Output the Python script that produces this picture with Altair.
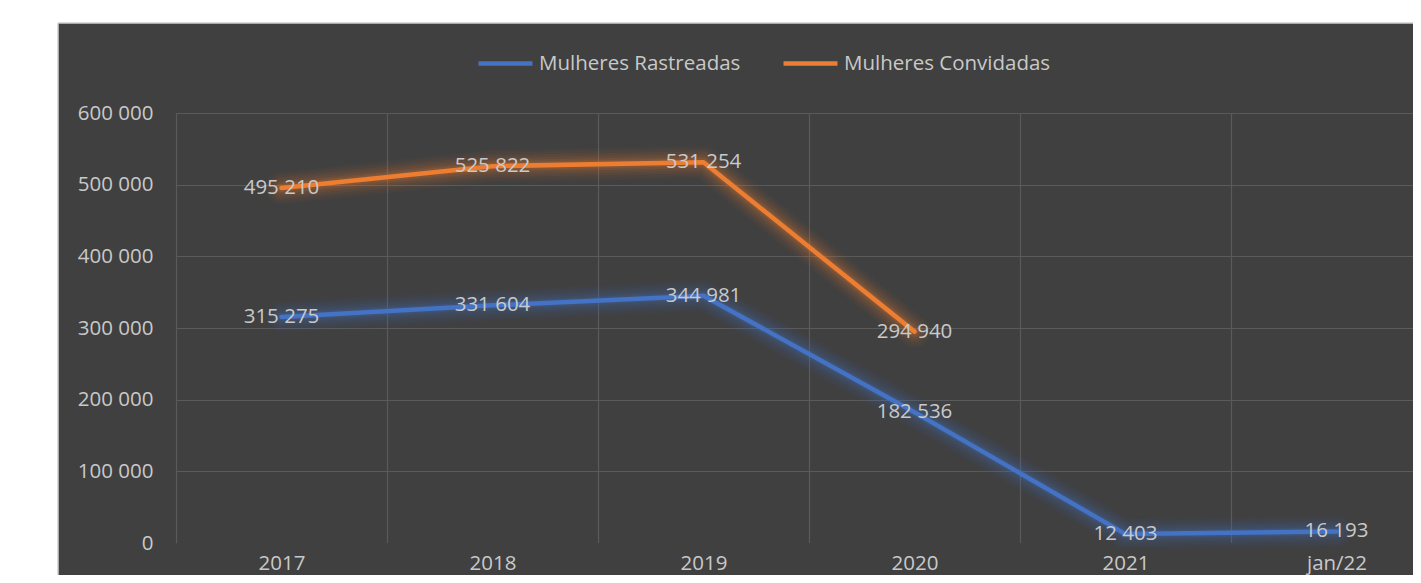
import altair as alt
import pandas as pd

years = ["2017", "2018", "2019", "2020", "2021", "jan/22"]
rastreadas = [315275, 331604, 344981, 182536, 12403, 16193]
convidadas = [495210, 525822, 531254, 294940]
series_names = ["Mulheres Rastreadas", "Mulheres Convidadas"]
series_colors = ["#4472C4", "#ED7D31"]
y_ticks = [0, 100000, 200000, 300000, 400000, 500000, 600000]

rows = []
for yr, v in zip(years, rastreadas):
    rows.append({"ano": yr, "serie": series_names[0], "valor": v})
for yr, v in zip(years, convidadas):
    rows.append({"ano": yr, "serie": series_names[1], "valor": v})
df = pd.DataFrame(rows)

FONT = "Open Sans"
FS = 20.5
TXT = "#c9c9c9"
GRID = "#5a5a5a"
BG = "#404040"
VIEW_W, VIEW_H = 1237, 430
BAND_RANGE = 1266

fmt = "replace(format({v}, ','), regexp(',', 'g'), ' ')"

x = alt.X(
    "ano:N",
    sort=years,
    scale=alt.Scale(type="band", domain=years, range=[0, BAND_RANGE], paddingInner=0, paddingOuter=0),
    axis=alt.Axis(
        title=None, labelAngle=0, tickBand="extent", grid=True, gridColor=GRID, gridWidth=1.2,
        ticks=False, domain=False, labelPadding=10, labelFont=FONT, labelFontSize=FS,
        labelColor=TXT,
    ),
)
y = alt.Y(
    "valor:Q",
    scale=alt.Scale(domain=[0, 600000], nice=False),
    axis=alt.Axis(
        values=y_ticks, title=None, ticks=False, domain=False, grid=True,
        gridColor={"condition": {"test": "datum.value == 0", "value": BG}, "value": GRID},
        gridWidth=1.2,
        labelExpr=fmt.format(v="datum.value"), labelPadding=23, labelFont=FONT,
        labelFontSize=FS, labelColor=TXT,
    ),
)
color = alt.Color(
    "serie:N",
    scale=alt.Scale(domain=series_names, range=series_colors),
    legend=alt.Legend(
        orient="none", legendX=300, legendY=-79, direction="horizontal", columns=2,
        title=None, symbolType="stroke", symbolSize=2916, symbolStrokeWidth=4.5,
        symbolOpacity=1, labelFont=FONT, labelFontSize=FS, labelColor=TXT, labelLimit=500,
        labelOffset=4, columnPadding=33, padding=0,
    ),
)

base = alt.Chart(df).encode(x=x, y=y, color=color, detail="serie:N")
glows = [
    base.mark_line(strokeWidth=w, opacity=o, strokeJoin="round", strokeCap="round")
    for w, o in [(32, 0.04), (27, 0.05), (22, 0.06), (17, 0.08), (12, 0.1), (8, 0.14)]
]
lines = base.mark_line(strokeWidth=4.5, strokeJoin="round", strokeCap="round")
labels = (
    alt.Chart(df)
    .transform_calculate(lbl=fmt.format(v="datum.valor"))
    .mark_text(font=FONT, fontSize=FS, color=TXT, align="center", baseline="middle")
    .encode(x=alt.X("ano:N", sort=years), y=alt.Y("valor:Q"), text="lbl:N")
)

frame_df = pd.DataFrame({"k": [0]})
white_left = alt.Chart(frame_df).mark_rect(color="white").encode(
    x=alt.value(-180), x2=alt.value(-118), y=alt.value(-120), y2=alt.value(500)
)
white_top = alt.Chart(frame_df).mark_rect(color="white").encode(
    x=alt.value(-180), x2=alt.value(VIEW_W + 20), y=alt.value(-120), y2=alt.value(-90)
)
border_left = alt.Chart(frame_df).mark_rule(color="#cfcfcf", strokeWidth=1.5).encode(
    x=alt.value(-118), y=alt.value(-90), y2=alt.value(500)
)
border_top = alt.Chart(frame_df).mark_rule(color="#cfcfcf", strokeWidth=1.5).encode(
    x=alt.value(-118), x2=alt.value(VIEW_W + 20), y=alt.value(-90)
)

chart = (
    alt.layer(white_left, white_top, border_left, border_top, *glows, lines, labels)
    .properties(
        width=VIEW_W, height=VIEW_H,
        padding={"left": 168, "top": 105, "right": 0, "bottom": 32},
        autosize=alt.AutoSizeParams(type="none"),
    )
    .configure(background=BG)
    .configure_view(strokeWidth=0)
)

chart.save("out.html", embed_options={"renderer": "svg", "actions": False})
